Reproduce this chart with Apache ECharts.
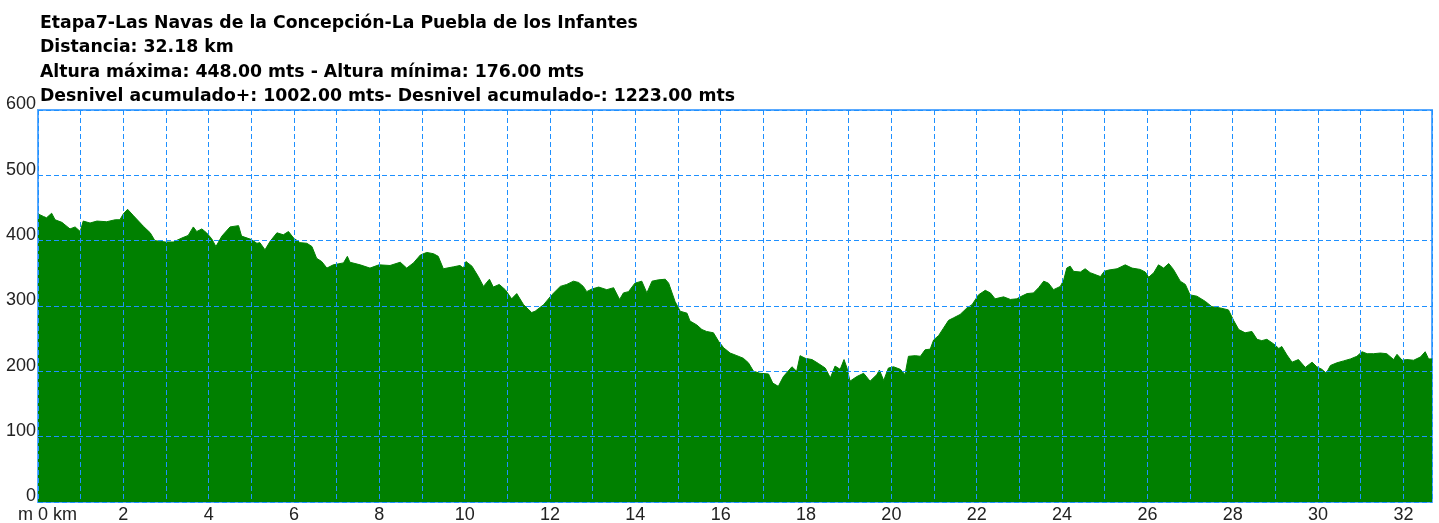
<!DOCTYPE html>
<html>
<head>
<meta charset="utf-8">
<script src="https://cdn.jsdelivr.net/npm/echarts@6/dist/echarts.min.js"></script>
<style>
  html, body { margin: 0; padding: 0; background: #fff; }
  #chart { width: 1439px; height: 523px; }
</style>
</head>
<body>
<div id="chart"></div>
<script>
// perfil de la etapa: distancia (km) y altura (m)
const titleLines = [
  'Etapa7-Las Navas de la Concepción-La Puebla de los Infantes',
  'Distancia: 32.18 km',
  'Altura máxima: 448.00 mts - Altura mínima: 176.00 mts',
  'Desnivel acumulado+: 1002.00 mts- Desnivel acumulado-: 1223.00 mts'
]

const distKm = [
  0.00, 0.13, 0.20, 0.32, 0.40, 0.56, 0.75, 0.87, 0.99, 1.06, 1.22, 1.38, 1.61, 1.81, 1.92,
  2.00, 2.10, 2.24, 2.47, 2.63, 2.74, 2.99, 3.17, 3.37, 3.52, 3.64, 3.72, 3.84, 3.95, 4.07,
  4.17, 4.31, 4.50, 4.70, 4.77, 4.99, 5.13, 5.20, 5.32, 5.44, 5.60, 5.75, 5.87, 5.99, 6.14,
  6.30, 6.42, 6.53, 6.65, 6.77, 6.92, 7.16, 7.25, 7.31, 7.55, 7.78, 7.99, 8.25, 8.49, 8.64,
  8.80, 8.96, 9.11, 9.27, 9.38, 9.50, 9.74, 9.89, 9.97, 10.03, 10.17, 10.32, 10.44, 10.58, 10.67,
  10.81, 10.95, 11.10, 11.22, 11.38, 11.57, 11.65, 11.85, 12.04, 12.24, 12.39, 12.55, 12.67, 12.78, 12.86,
  12.98, 13.14, 13.33, 13.49, 13.63, 13.72, 13.84, 13.99, 14.15, 14.27, 14.39, 14.54, 14.70, 14.78, 14.93,
  15.05, 15.21, 15.28, 15.44, 15.56, 15.67, 15.83, 15.95, 16.07, 16.22, 16.38, 16.53, 16.65, 16.77, 16.92,
  17.12, 17.22, 17.35, 17.47, 17.67, 17.78, 17.86, 17.98, 18.14, 18.29, 18.45, 18.57, 18.68, 18.80, 18.89,
  18.96, 19.03, 19.19, 19.35, 19.50, 19.66, 19.72, 19.82, 19.93, 20.05, 20.21, 20.32, 20.40, 20.56, 20.68,
  20.79, 20.91, 20.99, 21.11, 21.22, 21.34, 21.46, 21.61, 21.77, 21.89, 22.04, 22.20, 22.32, 22.43, 22.63,
  22.79, 22.94, 23.02, 23.18, 23.33, 23.45, 23.57, 23.68, 23.80, 23.96, 24.04, 24.11, 24.19, 24.27, 24.43,
  24.54, 24.66, 24.90, 24.99, 25.09, 25.29, 25.48, 25.64, 25.83, 25.95, 26.03, 26.15, 26.26, 26.38, 26.50,
  26.61, 26.77, 26.89, 27.00, 27.16, 27.36, 27.51, 27.71, 27.90, 28.02, 28.14, 28.29, 28.45, 28.57, 28.68,
  28.80, 28.96, 29.08, 29.15, 29.27, 29.39, 29.54, 29.70, 29.86, 29.97, 30.09, 30.19, 30.29, 30.44, 30.60,
  30.76, 30.91, 31.03, 31.15, 31.30, 31.46, 31.61, 31.77, 31.85, 31.97, 32.08, 32.24, 32.40, 32.51, 32.59,
  32.67
]

const alturaM = [
  441, 437, 435, 442, 432, 428, 418, 421, 414, 430, 427, 430, 429, 432, 432,
  441, 448, 438, 422, 412, 400, 398, 398, 404, 408, 421, 414, 418, 412, 403,
  391, 407, 421, 423, 407, 402, 396, 397, 386, 399, 412, 409, 414, 404, 397,
  396, 391, 373, 368, 358, 363, 366, 376, 367, 363, 358, 363, 362, 367, 358,
  366, 378, 382, 380, 376, 357, 360, 362, 358, 368, 361, 345, 330, 341, 329,
  333, 325, 311, 319, 302, 290, 292, 302, 317, 330, 333, 338, 336, 330, 322,
  326, 329, 325, 328, 310, 320, 322, 335, 338, 320, 338, 340, 341, 335, 307,
  292, 289, 277, 271, 264, 261, 259, 246, 236, 228, 224, 220, 213, 200, 197,
  196, 182, 177, 192, 207, 200, 224, 220, 218, 212, 205, 190, 208, 203, 218,
  205, 185, 192, 197, 185, 195, 202, 186, 205, 207, 203, 195, 223, 224, 223,
  233, 234, 248, 255, 266, 278, 282, 287, 297, 302, 317, 324, 320, 311, 314,
  310, 311, 314, 319, 320, 328, 338, 335, 325, 330, 340, 358, 361, 353, 352,
  357, 351, 345, 353, 355, 357, 363, 358, 356, 352, 344, 351, 363, 358, 365,
  356, 338, 333, 317, 315, 307, 299, 297, 294, 278, 264, 259, 261, 249, 247,
  249, 242, 235, 238, 225, 214, 218, 206, 214, 207, 203, 197, 209, 213, 216,
  219, 223, 230, 227, 227, 228, 227, 218, 226, 217, 218, 217, 222, 230, 219,
  219
]

const xMax = 32.67
const yTicks = [0, 100, 200, 300, 400, 500, 600]

const chart = echarts.init(document.getElementById('chart'))

const gridLine = {
  show: true,
  lineStyle: { color: '#1e90ff', width: 1, type: [5, 3] }
}

const labelFont = 'Liberation Sans, Arial, sans-serif'

const option = {
  animation: false,
  title: {
    text: titleLines.join('\n'),
    left: 40,
    top: 11,
    padding: 0,
    textStyle: {
      fontFamily: 'DejaVu Sans, sans-serif',
      fontSize: 17.3,
      fontWeight: 'bold',
      color: '#000',
      lineHeight: 24.5
    }
  },
  // unidad del eje vertical, bajo el "0"
  graphic: [
    {
      type: 'text',
      left: 18,
      top: 506,
      style: { text: 'm', fill: '#222', font: '18px ' + labelFont }
    }
  ],
  grid: {
    left: 38,
    right: 7,
    top: 110,
    bottom: 21,
    outerBoundsMode: 'none',
    show: true,
    borderColor: '#5aaaff',
    borderWidth: 2,
    backgroundColor: 'transparent'
  },
  xAxis: {
    type: 'value',
    min: 0,
    max: xMax,
    interval: 1,
    z: 3,
    axisLine: { show: false },
    axisTick: { show: false },
    splitLine: gridLine,
    axisLabel: {
      margin: 4,
      color: '#222',
      fontFamily: labelFont,
      fontSize: 18,
      alignMinLabel: 'left',
      formatter: (v) => {
        if (v === 0) return '0 km'
        return Number.isInteger(v) && v % 2 === 0 ? String(v) : ''
      }
    }
  },
  yAxis: {
    type: 'value',
    min: yTicks[0],
    max: yTicks[yTicks.length - 1],
    interval: 100,
    z: 3,
    axisLine: { show: false },
    axisTick: { show: false },
    splitLine: gridLine,
    axisLabel: {
      margin: 2,
      color: '#222',
      fontFamily: labelFont,
      fontSize: 18,
      verticalAlign: 'bottom',
      lineHeight: 11
    }
  },
  series: [
    {
      type: 'line',
      data: distKm.map((d, i) => [d, alturaM[i]]),
      symbol: 'none',
      z: 1,
      lineStyle: { color: '#008000', width: 1 },
      areaStyle: { color: '#008000', opacity: 1 }
    }
  ]
}

chart.setOption(option)
</script>
</body>
</html>
